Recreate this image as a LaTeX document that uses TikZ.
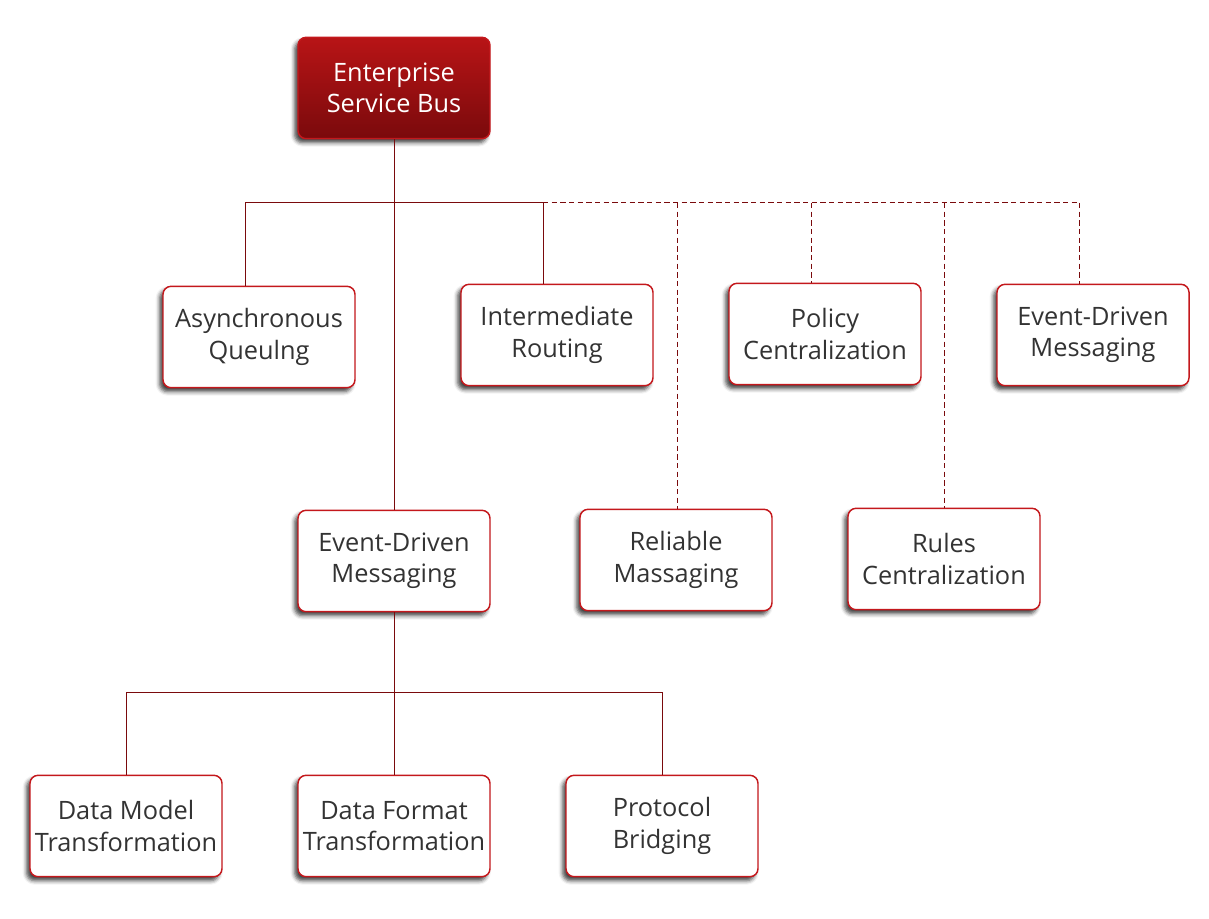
\documentclass[tikz,border=0pt]{standalone}
\usepackage{fontspec}
\setmainfont{Open Sans}
\usetikzlibrary{shadows.blur,positioning}
\definecolor{esbred}{RGB}{196,24,28}
\definecolor{esbtop}{RGB}{184,20,22}
\definecolor{esbdark}{RGB}{122,10,12}
\definecolor{esbtext}{RGB}{51,51,51}

\begin{document}
\begin{tikzpicture}[
    x=0.75pt, y=-0.75pt,
    block/.style={rectangle, rounded corners=6pt, draw=esbred, line width=1.1pt,
        minimum width=144pt, minimum height=76pt, align=center, text=esbtext,
        font=\fontsize{19}{23.5}\selectfont,
        blur shadow={shadow xshift=-2.5pt, shadow yshift=-3pt, shadow opacity=75,
            shadow blur radius=3pt, fill=esbdark},
        fill=white},
    rootblock/.style={block, top color=esbtop, bottom color=esbdark, text=white},
    link/.style={draw=esbdark, line width=0.75pt},
    dashlink/.style={link, dash pattern=on 4pt off 2.5pt},
]
    \useasboundingbox (0,0) rectangle (1209,919);

    % Root
    \node[rootblock] (esb) at (394,88) {Enterprise\\Service Bus};

    % First row
    \node[block] (async) at (259,337) {Asynchronous\\Queulng};
    \node[block] (route) at (557,335) {Intermediate\\Routing};
    \node[block] (policy) at (825,334) {Policy\\Centralization};
    \node[block] (edmtop) at (1093,335) {Event-Driven\\Messaging};

    % Second row
    \node[block] (edm) at (394,561) {Event-Driven\\Messaging};
    \node[block] (reliable) at (676,560) {Reliable\\Massaging};
    \node[block] (rules) at (944,559) {Rules\\Centralization};

    % Third row
    \node[block] (dmodel) at (126,826) {Data Model\\Transformation};
    \node[block] (dformat) at (394,826) {Data Format\\Transformation};
    \node[block] (bridge) at (662,826) {Protocol\\Bridging};

    % Bus lines
    \coordinate (busL) at (245,203);
    \coordinate (busM) at (543,203);
    \coordinate (busR) at (1079,203);
    \coordinate (tapR) at (677,203);
    \coordinate (tapP) at (811,203);
    \coordinate (tapU) at (944,203);

    \draw[link] (esb.south) -- (edm.north);
    \draw[link] (busL) -- (busM);
    \draw[dashlink] (busM) -- (busR);
    \draw[link] (busL) -- (busL |- async.north);
    \draw[link] (busM) -- (busM |- route.north);
    \draw[dashlink] (tapR) -- (tapR |- reliable.north);
    \draw[dashlink] (tapP) -- (tapP |- policy.north);
    \draw[dashlink] (tapU) -- (tapU |- rules.north);
    \draw[dashlink] (busR) -- (busR |- edmtop.north);

    % Lower branch
    \coordinate (lowR) at (662,692);
    \draw[link] (edm.south) -- (dformat.north);
    \draw[link] (dmodel.north) |- (lowR) -- (bridge.north);
\end{tikzpicture}
\end{document}
